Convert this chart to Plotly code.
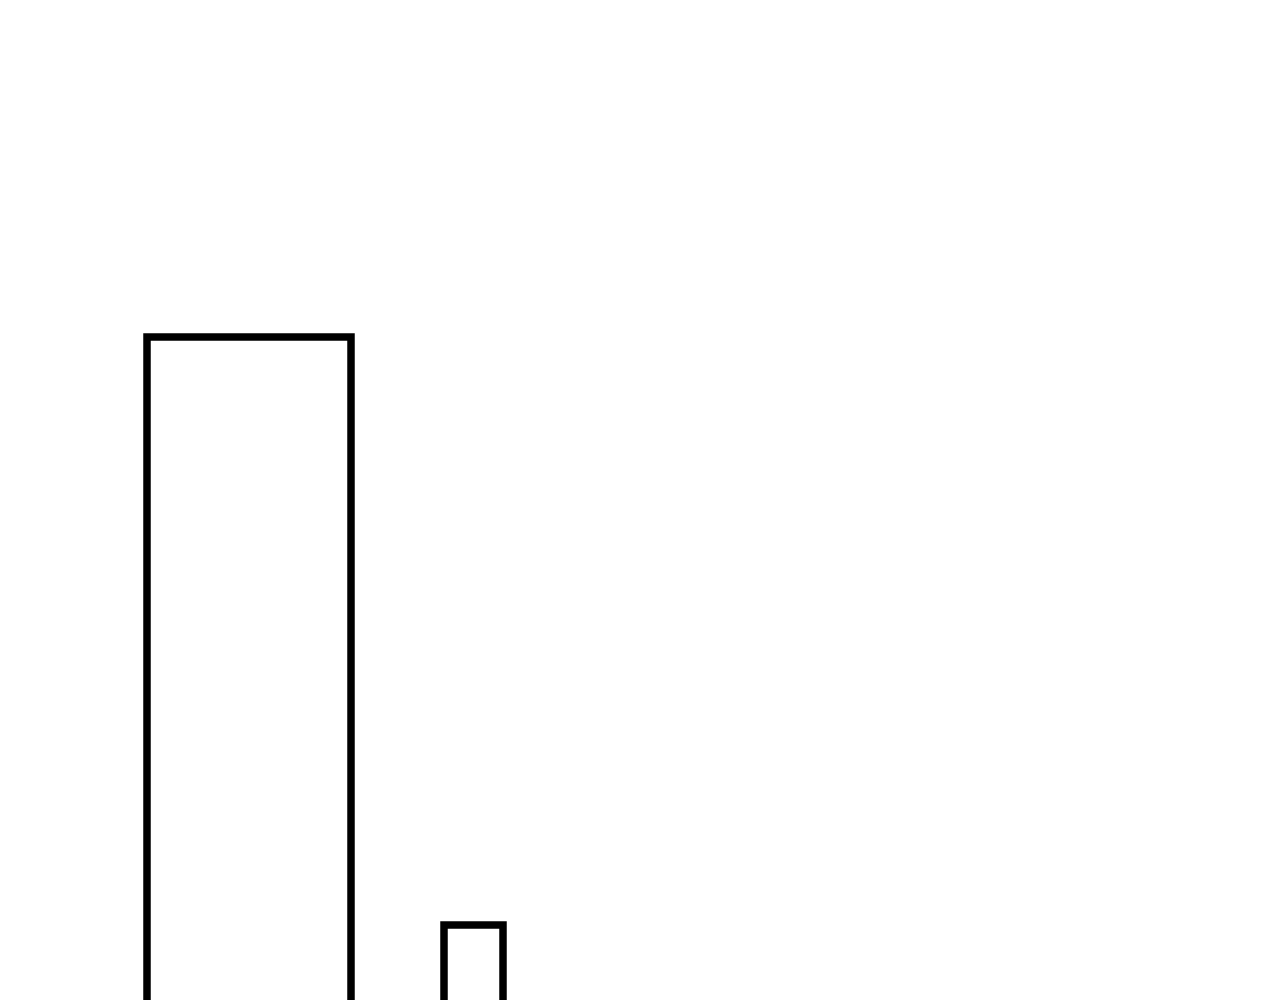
import plotly.graph_objects as go

# Data
bar_positions = [2.49, 4.735]
bar_widths = [2.04, 0.59]
bar_values = [8.63, 2.75]

fig = go.Figure(
    go.Bar(
        x=bar_positions,
        y=bar_values,
        width=bar_widths,
        marker=dict(color="white", line=dict(color="black", width=7.5)),
        showlegend=False,
        hoverinfo="skip",
    )
)

fig.update_layout(
    width=1280,
    height=1000,
    margin=dict(l=0, r=0, t=0, b=0),
    paper_bgcolor="white",
    plot_bgcolor="white",
    xaxis=dict(range=[0.08, 12.88], visible=False, showgrid=False, zeroline=False),
    yaxis=dict(range=[1.92, 11.92], visible=False, showgrid=False, zeroline=False),
)

fig.write_html("out.html", config={"displayModeBar": False})
